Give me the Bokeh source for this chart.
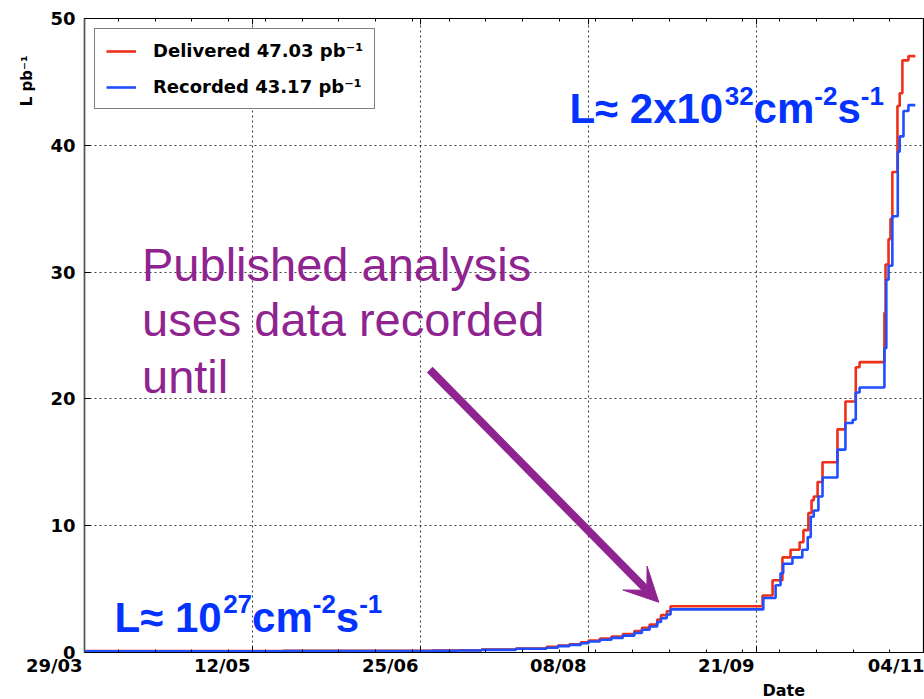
import numpy as np
import pandas as pd
from bokeh.plotting import figure
from bokeh.models import (Range1d, FixedTicker, Label, Legend, LegendItem, Arrow,
                          VeeHead, DatetimeAxis, CustomJSTickFormatter, Title)
from bokeh.embed import file_html
from bokeh.resources import INLINE

# ---------------- data ----------------
delivered_date = [
    "2010-03-29 00:00", "2010-05-20 00:00", "2010-06-28 00:00", "2010-07-05 00:00",
    "2010-07-11 00:00", "2010-07-20 00:00", "2010-07-28 00:00", "2010-07-31 00:00",
    "2010-08-03 00:00", "2010-08-06 00:00", "2010-08-08 00:00", "2010-08-11 00:00",
    "2010-08-14 00:00", "2010-08-17 00:00", "2010-08-20 00:00", "2010-08-22 00:00",
    "2010-08-24 00:00", "2010-08-26 00:00", "2010-08-27 00:00", "2010-08-28 12:00",
    "2010-08-29 12:00", "2010-09-22 14:00", "2010-09-25 05:00", "2010-09-27 19:00",
    "2010-09-29 22:00", "2010-10-02 07:00", "2010-10-03 07:00", "2010-10-04 14:00",
    "2010-10-05 10:00", "2010-10-06 00:00", "2010-10-07 00:00", "2010-10-08 07:00",
    "2010-10-12 05:00", "2010-10-14 07:00", "2010-10-17 00:00", "2010-10-18 00:00",
    "2010-10-24 12:00", "2010-10-24 19:00", "2010-10-25 14:00", "2010-10-26 02:00",
    "2010-10-26 14:00", "2010-10-27 22:00", "2010-10-28 12:00", "2010-10-29 05:00",
    "2010-10-30 19:00", "2010-11-01 14:00",
]
delivered_lumi = [
    0.12, 0.13, 0.15, 0.18,
    0.24, 0.32, 0.44, 0.55,
    0.65, 0.80, 0.95, 1.10,
    1.25, 1.45, 1.70, 1.95,
    2.20, 2.60, 2.95, 3.25,
    3.65, 4.50, 5.70, 7.50,
    8.10, 8.70, 9.65, 11.0,
    12.0, 12.3, 13.45, 15.0,
    17.6, 19.8, 22.5, 22.9,
    26.8, 30.6, 32.6, 34.2,
    37.9, 43.1, 44.1, 46.7,
    47.03, 47.03,
]

recorded_date = [
    "2010-03-29 00:00", "2010-05-20 00:00", "2010-06-28 00:00", "2010-07-05 00:00",
    "2010-07-11 00:00", "2010-07-20 00:00", "2010-07-28 00:00", "2010-07-31 00:00",
    "2010-08-03 00:00", "2010-08-06 00:00", "2010-08-08 00:00", "2010-08-11 00:00",
    "2010-08-14 00:00", "2010-08-17 00:00", "2010-08-20 00:00", "2010-08-22 00:00",
    "2010-08-24 00:00", "2010-08-26 00:00", "2010-08-27 00:00", "2010-08-28 12:00",
    "2010-08-29 12:00", "2010-09-22 19:00", "2010-09-26 00:00", "2010-09-27 07:00",
    "2010-09-28 00:00", "2010-09-30 10:00", "2010-10-03 00:00", "2010-10-04 10:00",
    "2010-10-05 05:00", "2010-10-06 00:00", "2010-10-07 05:00", "2010-10-08 07:00",
    "2010-10-12 05:00", "2010-10-14 07:00", "2010-10-16 05:00", "2010-10-17 00:00",
    "2010-10-18 00:00", "2010-10-24 12:00", "2010-10-25 00:00", "2010-10-25 14:00",
    "2010-10-26 14:00", "2010-10-28 00:00", "2010-10-28 12:00", "2010-10-29 12:00",
    "2010-10-30 19:00", "2010-11-01 14:00",
]
recorded_lumi = [
    0.10, 0.11, 0.13, 0.16,
    0.21, 0.29, 0.38, 0.50,
    0.60, 0.73, 0.87, 1.00,
    1.15, 1.33, 1.55, 1.80,
    2.05, 2.40, 2.70, 3.00,
    3.40, 4.30, 5.30, 6.25,
    7.00, 7.50, 8.10, 9.10,
    10.7, 11.2, 12.3, 13.8,
    16.0, 18.1, 18.35, 20.5,
    20.9, 24.0, 29.4, 30.5,
    34.4, 39.5, 40.7, 42.7,
    43.17, 43.17,
]

tick_dates = ["2010-03-29", "2010-05-12", "2010-06-25", "2010-08-08", "2010-09-21", "2010-11-04"]
tick_labels = ["29/03", "12/05", "25/06", "08/08", "21/09", "04/11"]
y_ticks = [0, 10, 20, 30, 40, 50]
legend_labels = ["Delivered 47.03 pb⁻¹", "Recorded 43.17 pb⁻¹"]

# ---------------- styling ----------------
RED = "#ee3018"
BLUE = "#1f4fff"
TXT_BLUE = "#0433ff"
PURPLE = "#8f2490"
AX_FONT = "DejaVu Sans"
ANN_FONT = "Liberation Sans"


def ms(s):
    return pd.Timestamp(s).timestamp() * 1000.0


x_start, x_end = ms(tick_dates[0]), ms(tick_dates[-1])
DAY = 86400000.0

p = figure(width=924, height=699, x_axis_type="datetime",
           x_range=Range1d(x_start, x_end), y_range=Range1d(0, 50),
           output_backend="svg", toolbar_location=None,
           min_border_left=84, min_border_right=0, min_border_top=18, min_border_bottom=47)
p.background_fill_color = "white"
p.border_fill_color = "white"
p.outline_line_color = "black"
p.outline_line_width = 1.2

tick_ms = [ms(d) for d in tick_dates]
minor_ms = [x_start + DAY * (8.9 + 9.62 * i) for i in range(22)]

# labels padded on the right so that the visible text ends at the tick (right aligned);
# the last one sits at the right edge of the canvas and is left as is
PAD = "\u2007\u2007\u2007\u2007\u2008\u2009"
padded = [lab + PAD for lab in tick_labels[:-1]] + [tick_labels[-1]]

xax = p.xaxis[0]
xax.ticker = FixedTicker(ticks=tick_ms, minor_ticks=minor_ms)
xax.formatter = CustomJSTickFormatter(args=dict(tv=tick_ms, labs=padded),
                                      code="const i = tv.indexOf(tick); return i >= 0 ? labs[i] : '';")
xax.major_tick_in = 6
xax.major_tick_out = 0
xax.minor_tick_in = 3
xax.minor_tick_out = 0
xax.axis_line_color = "black"
xax.major_tick_line_color = "black"
xax.minor_tick_line_color = "black"
xax.major_label_standoff = 2
xax.major_label_text_font = AX_FONT
xax.major_label_text_font_style = "bold"
xax.major_label_text_font_size = "18px"
xax.major_label_text_color = "black"

# top axis ticks
top = DatetimeAxis(ticker=FixedTicker(ticks=tick_ms, minor_ticks=minor_ms),
                   formatter=CustomJSTickFormatter(code="return ''"),
                   major_tick_in=6, major_tick_out=0, minor_tick_in=3, minor_tick_out=0,
                   major_label_standoff=0, axis_line_color=None)
p.add_layout(top, "above")

yax = p.yaxis[0]
yax.ticker = FixedTicker(ticks=y_ticks)
yax.major_tick_in = 6
yax.major_tick_out = 0
yax.minor_tick_line_color = None
yax.axis_line_color = "#555555"
yax.axis_line_width = 1.5
yax.major_label_text_font = AX_FONT
yax.major_label_text_font_style = "bold"
yax.major_label_text_font_size = "18px"
yax.major_label_text_color = "black"
yax.major_label_standoff = 9

p.xgrid.ticker = FixedTicker(ticks=tick_ms)
p.ygrid.ticker = FixedTicker(ticks=y_ticks)
for g in (p.xgrid[0], p.ygrid[0]):
    g.grid_line_color = "black"
    g.grid_line_alpha = 0.75
    g.grid_line_dash = "2 3"
    g.grid_line_width = 1.1

# axis titles
p.add_layout(Title(text="Date", align="left", offset=678, standoff=0,
                   text_font=AX_FONT, text_font_style="bold", text_font_size="16px",
                   text_color="black"), "below")
p.add_layout(Title(text="L pb⁻¹", align="right", offset=37, standoff=24,
                   text_font=AX_FONT, text_font_style="bold", text_font_size="15px",
                   text_color="black"), "left")

# curves
r_del = p.step(x=[ms(d) for d in delivered_date], y=delivered_lumi, mode="after",
               line_color=RED, line_width=2.6)
r_rec = p.step(x=[ms(d) for d in recorded_date], y=recorded_lumi, mode="after",
               line_color=BLUE, line_width=2.6)

legend = Legend(items=[LegendItem(label=legend_labels[0], renderers=[r_del]),
                       LegendItem(label=legend_labels[1], renderers=[r_rec])],
                location="top_left", margin=10, padding=11, spacing=15,
                glyph_width=30, glyph_height=20, label_height=20, label_standoff=17,
                label_text_font=AX_FONT, label_text_font_style="bold",
                label_text_font_size="18px", label_text_color="black",
                border_line_color="black", border_line_width=1.5,
                background_fill_color="white", background_fill_alpha=1.0)
p.add_layout(legend)

# rich text with superscripts
W = {"L": .611, "≈": .584, " ": .278, "x": .556, "c": .556, "m": .889,
     "s": .556, "-": .333}


def tw(t, size):
    return sum(W.get(ch, .556) for ch in t) * size


def rich(x, y, segs, color, size=42, sup=26, rise=13):
    off = 0.0
    for txt, is_sup in segs:
        fs = sup if is_sup else size
        p.add_layout(Label(x=x, y=y, x_offset=off, y_offset=rise if is_sup else 0,
                           text=txt, text_font=ANN_FONT, text_font_style="bold",
                           text_font_size=f"{fs}px", text_color=color,
                           text_align="left", text_baseline="alphabetic"))
        off += tw(txt, fs)


rich(ms("2010-08-03 00:00"), 42.9,
     [("L≈ 2x10", False), ("32", True), ("cm", False), ("-2", True), ("s", False), ("-1", True)],
     TXT_BLUE)
rich(ms("2010-04-05 21:00"), 2.77,
     [("L≈ 10", False), ("27", True), ("cm", False), ("-2", True), ("s", False), ("-1", True)],
     TXT_BLUE)

for line, yv in zip(["Published analysis", "uses data recorded", "until"], [30.62, 26.27, 21.76]):
    p.add_layout(Label(x=ms("2010-04-13 01:30"), y=yv, text=line,
                       text_font=ANN_FONT, text_font_size="47px", text_color=PURPLE,
                       text_align="left", text_baseline="alphabetic"))

p.add_layout(Arrow(x_start=ms("2010-06-27 10:00"), y_start=22.31,
                   x_end=ms("2010-08-26 10:00"), y_end=3.96,
                   line_color=PURPLE, line_width=8,
                   end=VeeHead(size=34, fill_color=PURPLE, line_color=PURPLE, line_width=1)))

open("out.html", "w").write(file_html(p, INLINE))
